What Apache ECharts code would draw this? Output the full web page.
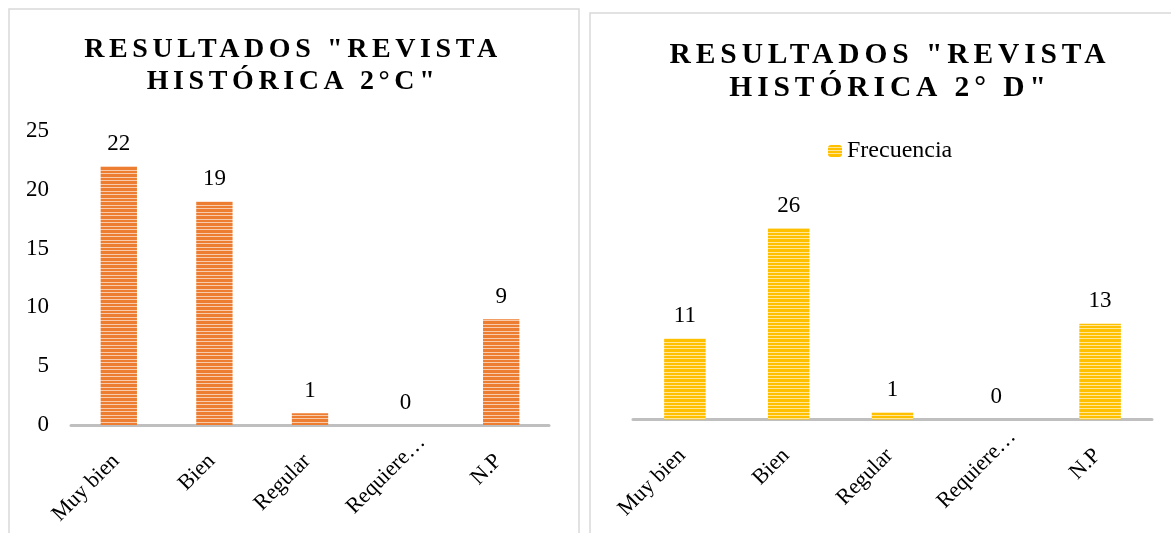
<!DOCTYPE html>
<html>
<head>
<meta charset="utf-8">
<title>Resultados Revista Histórica</title>
<script src="https://cdn.jsdelivr.net/npm/echarts@6/dist/echarts.min.js"></script>
<style>
  html, body { margin: 0; padding: 0; background: #fff; }
  #main { width: 1171px; height: 533px; }
</style>
</head>
<body>
<div id="main"></div>
<script>
// categorías y frecuencias de cada curso
const categories = ['Muy bien', 'Bien', 'Regular', 'Requiere…', 'N.P']
const frecuencia2C = [22, 19, 1, 0, 9]
const frecuencia2D = [11, 26, 1, 0, 13]
const yTicks2C = [0, 5, 10, 15, 20, 25]

const titulo2C = 'RESULTADOS "REVISTA\nHISTÓRICA 2°C"'
const titulo2D = 'RESULTADOS "REVISTA\nHISTÓRICA 2° D"'

const serif = "'Liberation Serif', 'Times New Roman', serif"

// ECharts no tiene letterSpacing: se lo damos a los títulos (texto en negrita)
const fillTextOrig = CanvasRenderingContext2D.prototype.fillText
CanvasRenderingContext2D.prototype.fillText = function () {
  if (this.font.indexOf('bold') < 0) {
    return fillTextOrig.apply(this, arguments)
  }
  const prev = this.letterSpacing
  const size = parseFloat(this.font.match(/([\d.]+)px/)[1])
  this.letterSpacing = (size * 0.165).toFixed(1) + 'px'
  fillTextOrig.apply(this, arguments)
  this.letterSpacing = prev
}

// relleno de barras con rayas horizontales
function stripes(base, light, height, rows) {
  const c = document.createElement('canvas')
  c.width = 4
  c.height = height
  const ctx = c.getContext('2d')
  ctx.fillStyle = base
  ctx.fillRect(0, 0, 4, height)
  ctx.fillStyle = light
  rows.forEach(r => ctx.fillRect(0, r, 4, 1))
  return { image: c, repeat: 'repeat' }
}

const textBase = { fontFamily: serif, fontSize: 23, color: '#000' }

const catAxis = (gridIndex) => ({
  type: 'category',
  gridIndex: gridIndex,
  data: categories,
  axisTick: { show: false },
  axisLine: { lineStyle: { color: '#bfbfbf', width: 3 } },
  axisLabel: {
    ...textBase,
    fontSize: 22,
    rotate: 45,
    interval: 0,
    margin: 30,
    padding: [0, 4, 0, 0],
    // la etiqueta recortada queda algo más arriba en el original
    formatter: (value) => value.endsWith('…') ? '{cut|' + value + '}' : value,
    rich: { cut: { fontFamily: serif, fontSize: 22, color: '#000', padding: [0, -27, 0, 0] } }
  }
})

const barLabel = { show: true, position: 'top', distance: 11, ...textBase }

const myChart = echarts.init(document.getElementById('main'))
const option = {
  animation: false,
  title: [
    {
      text: titulo2C,
      left: 293,
      top: 34,
      textAlign: 'center',
      padding: 0,
      textStyle: { fontFamily: serif, fontWeight: 'bold', fontSize: 28, lineHeight: 32, color: '#000' }
    },
    {
      text: titulo2D,
      left: 890,
      top: 39,
      textAlign: 'center',
      padding: 0,
      textStyle: { fontFamily: serif, fontWeight: 'bold', fontSize: 29.5, lineHeight: 33, color: '#000' }
    }
  ],
  legend: {
    data: ['Frecuencia'],
    left: 823,
    top: 134,
    itemWidth: 14,
    itemHeight: 12,
    textStyle: { ...textBase, fontSize: 24 }
  },
  // marcos de los dos gráficos
  graphic: [
    { type: 'rect', silent: true, shape: { x: 9, y: 9, width: 570, height: 560 }, style: { fill: 'none', stroke: '#d9d9d9', lineWidth: 1.5 } },
    { type: 'rect', silent: true, shape: { x: 590, y: 13, width: 620, height: 560 }, style: { fill: 'none', stroke: '#d9d9d9', lineWidth: 1.5 } }
  ],
  grid: [
    { left: 71, top: 131, width: 478, height: 294, outerBoundsMode: 'none' },
    { left: 633, top: 198.5, width: 519, height: 221, outerBoundsMode: 'none' }
  ],
  xAxis: [catAxis(0), catAxis(1)],
  yAxis: [
    {
      type: 'value',
      gridIndex: 0,
      min: yTicks2C[0],
      max: yTicks2C[yTicks2C.length - 1],
      interval: yTicks2C[1] - yTicks2C[0],
      splitLine: { show: false },
      axisLine: { show: false },
      axisTick: { show: false },
      axisLabel: { ...textBase, margin: 22 }
    },
    { type: 'value', gridIndex: 1, min: 0, max: 30, show: false, splitLine: { show: false } }
  ],
  series: [
    {
      name: '2°C',
      type: 'bar',
      xAxisIndex: 0,
      yAxisIndex: 0,
      data: frecuencia2C,
      barWidth: '38%',
      itemStyle: { color: stripes('#ed7d31', '#f8cbad', 7, [2, 5]) },
      label: barLabel
    },
    {
      name: 'Frecuencia',
      type: 'bar',
      xAxisIndex: 1,
      yAxisIndex: 1,
      data: frecuencia2D,
      barWidth: '40%',
      itemStyle: { color: stripes('#ffc000', '#ffe699', 10, [2, 5, 8]) },
      label: barLabel
    }
  ]
}
myChart.setOption(option)
</script>
</body>
</html>
